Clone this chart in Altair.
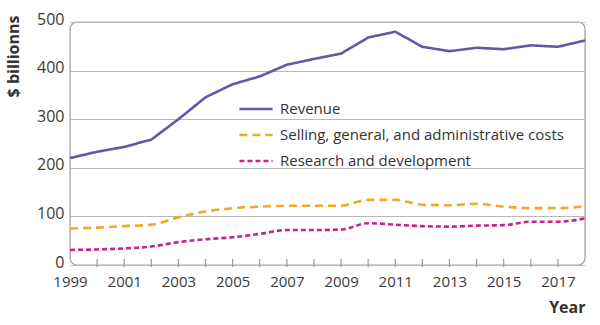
import altair as alt
import pandas as pd

years = list(range(1999, 2019))
revenue = [220, 233, 243, 258, 300, 345, 372, 388, 412, 424, 435, 468, 480, 449, 440, 447, 444, 452, 449, 462]
sga = [75, 77, 80, 83, 98, 110, 117, 120, 122, 122, 122, 134, 134, 124, 123, 126, 120, 117, 117, 121]
rnd = [31, 32, 34, 38, 47, 53, 57, 64, 72, 72, 73, 86, 83, 80, 79, 81, 82, 89, 89, 96]
series = ["Revenue", "Selling, general, and administrative costs", "Research and development"]
colors = ["#6656a6", "#f4a82a", "#cc2288"]
dashes = [[1, 0], [8, 5], [5, 3]]
x_ticks = list(range(1999, 2018, 2))
y_ticks = [0, 100, 200, 300, 400, 500]

rows = []
for name, vals in zip(series, [revenue, sga, rnd]):
    for yr, v in zip(years, vals):
        rows.append({"Year": yr, "Value": v, "Series": name})
df = pd.DataFrame(rows)

W, H = 515, 243
FONT = "Open Sans"

xscale = alt.Scale(domain=[1999, 2018], nice=False, zero=False)
yscale = alt.Scale(domain=[0, 500], nice=False)

xaxis = alt.Axis(values=x_ticks, format="d", ticks=False, domain=False, grid=False,
                 labelFontSize=15, labelColor="#3a3a3a", labelPadding=9, labelFont=FONT,
                 labelOverlap=False, labelFlush=False,
                 title="Year", titleFont=FONT, titleFontSize=16, titleFontWeight="bold",
                 titleColor="#333", titleAnchor="end", titleAlign="right",
                 titleX=W, titleY=42, titleBaseline="middle")
yaxis = alt.Axis(values=y_ticks, ticks=False, domain=False, grid=True,
                 gridColor="#b8b8b8", gridWidth=1.2,
                 labelFontSize=16, labelColor="#3a3a3a", labelPadding=6, labelFont=FONT,
                 labelOverlap=False, labelOffset=-3,
                 title="$ billionns", titleFont=FONT, titleFontSize=16,
                 titleFontWeight="bold", titleColor="#333", titleAngle=-90,
                 titleAlign="center", titleBaseline="middle", titleX=-57, titleY=34)

color = alt.Color("Series:N", sort=series,
                  scale=alt.Scale(domain=series, range=colors),
                  legend=alt.Legend(title=None, orient="none", legendX=168, legendY=69,
                                    symbolType="stroke", symbolSize=1100, symbolStrokeWidth=2.6,
                                    labelFontSize=15, labelFont=FONT, labelColor="#333",
                                    rowPadding=-10, labelOffset=6, labelLimit=400))
dash = alt.StrokeDash("Series:N", sort=series,
                      scale=alt.Scale(domain=series, range=dashes), legend=None)

base = alt.Chart(df).encode(
    x=alt.X("Year:Q", scale=xscale, axis=xaxis),
    y=alt.Y("Value:Q", scale=yscale, axis=yaxis),
    color=color,
    strokeDash=dash,
)

rev_line = base.mark_line(strokeWidth=2.6, interpolate="linear").transform_filter(
    alt.datum.Series == series[0])
cost_lines = base.mark_line(strokeWidth=2.6, interpolate="monotone").transform_filter(
    alt.datum.Series != series[0])

tick_df = pd.DataFrame({"Year": years[1:-1]})
ticks = alt.Chart(tick_df).mark_rule(color="#9a9a9a", strokeWidth=1.2).encode(
    x=alt.X("Year:Q", scale=xscale),
    y=alt.value(H - 6),
    y2=alt.value(H + 2),
)

chart = alt.layer(ticks, cost_lines, rev_line).properties(
    width=W, height=H,
    padding={"left": 70, "top": 22, "right": 15, "bottom": 60},
    autosize=alt.AutoSizeParams(type="none"),
    background="white",
).configure_view(stroke="#a8a8a8", strokeWidth=1.4, cornerRadius=7)

chart.save("out.html", embed_options={"renderer": "svg", "actions": False})
